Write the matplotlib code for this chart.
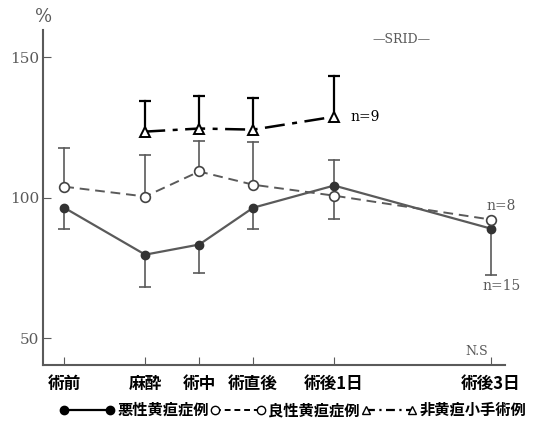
import matplotlib
matplotlib.use("Agg")
import matplotlib.pyplot as plt
from matplotlib.lines import Line2D

plt.rcParams['font.family'] = ['Noto Sans CJK JP', 'DejaVu Sans']

# time points (positions roughly follow the spacing in the original)
labels = ['術前', '麻酔', '術中', '術直後', '術後1日', '術後3日']
xpos = [0, 3, 5, 7, 10, 15.8]

# malignant jaundice (filled circles, solid)
mal = [96.4, 79.7, 83.3, 96.4, 104.3, 89.0]
mal_err = [89.0, 68.3, 73.3, 89.0, 113.5, 72.6]

# benign jaundice (open circles, dashed)
ben = [103.9, 100.4, 109.3, 104.6, 100.7, 92.2]
ben_err = [117.8, 115.0, 120.3, 119.9, 92.5, None]

# non-jaundice minor surgery (triangles, dash-dot), from 麻酔 to 術後1日
non_x = xpos[1:5]
non = [123.5, 124.6, 124.2, 128.8]
non_err = [134.5, 136.0, 135.6, 143.4]

gray = '#5a5a5a'
serif = 'DejaVu Serif'

fig = plt.figure(figsize=(5.47, 4.25), dpi=100)
ax = fig.add_axes([0.079, 0.141, 0.844, 0.788])


def bars(ax, xs, ys, ends, color, lw=1.2):
    for x, y, e in zip(xs, ys, ends):
        if e is None:
            continue
        ax.plot([x, x], [y, e], color=color, lw=lw, zorder=2)
        ax.plot([x], [e], marker='_', ms=8, mew=lw, color=color, zorder=2)


bars(ax, xpos, mal, mal_err, gray)
bars(ax, xpos, ben, ben_err, gray)
bars(ax, non_x, non, non_err, 'black', lw=1.6)

ax.plot(xpos, mal, color=gray, lw=1.6, marker='o', ms=6,
        mfc='#333333', mec='#333333', zorder=3)
ax.plot(xpos, ben, color=gray, lw=1.4, ls='--', dashes=(5, 3), marker='o',
        ms=7, mfc='white', mec='#444444', mew=1.2, zorder=3)
ax.plot(non_x, non, color='black', lw=1.8, dashes=(8, 3, 2, 3), marker='^',
        ms=7, mfc='white', mec='black', mew=1.4, zorder=4)

ax.set_xlim(-0.78, 16.33)
ax.set_ylim(40.4, 159.6)
ax.spines['top'].set_visible(False)
ax.spines['right'].set_visible(False)
for s in ['left', 'bottom']:
    ax.spines[s].set_color(gray)
    ax.spines[s].set_linewidth(1.5)

ax.set_yticks([50, 100, 150])
ax.set_yticklabels(['50', '100', '150'], family=serif, fontsize=11, color=gray)
ax.tick_params(axis='y', direction='in', length=6, color=gray, pad=3)
ax.set_xticks(xpos)
ax.set_xticklabels(labels, fontsize=12, fontweight='bold')
ax.tick_params(axis='x', direction='in', length=6, color=gray, pad=7)

ax.text(-0.78, 161, '%', family=serif, fontsize=13, color=gray,
        ha='center', va='bottom', transform=ax.transData, clip_on=False)
ax.text(12.5, 155, '—SRID—', family=serif, fontsize=9, color=gray, ha='center')
ax.text(10.6, non[-1], 'n=9', family=serif, fontsize=10, ha='left', va='center')
ax.text(16.2, 95.5, 'n=8', family=serif, fontsize=10, color=gray, ha='center')
ax.text(16.2, 67, 'n=15', family=serif, fontsize=10, color=gray, ha='center')
ax.text(15.7, 44, 'N.S', family=serif, fontsize=9, color=gray, ha='right')

handles = [
    Line2D([], [], color='black', lw=1.6, marker='o', ms=6, mfc='black'),
    Line2D([], [], color='black', lw=1.4, dashes=(3, 2), marker='o', ms=6,
           mfc='white'),
    Line2D([], [], color='black', lw=1.6, dashes=(4, 2, 1, 2), marker='^',
           ms=6, mfc='white'),
]
names = ['悪性黄疸症例', '良性黄疸症例', '非黄疸小手術例']
fig.legend(handles, names, loc='center', bbox_to_anchor=(0.535, 0.035),
           ncol=3, frameon=False, numpoints=2, handlelength=3.6,
           handletextpad=0.2, columnspacing=0.1,
           prop={'family': 'Noto Sans CJK JP', 'size': 11, 'weight': 'bold'})

fig.savefig('out.png', dpi=100)
